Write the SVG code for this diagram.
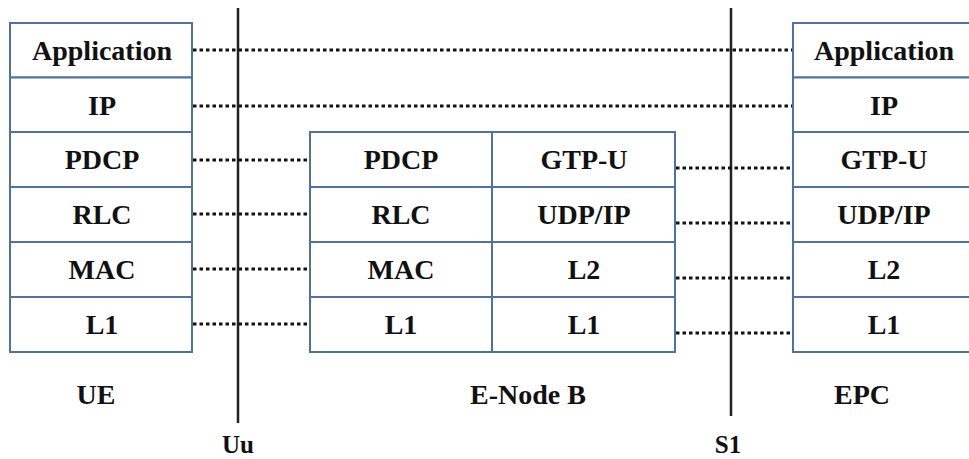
<svg xmlns="http://www.w3.org/2000/svg" width="969" height="459" viewBox="0 0 969 459">
<style>
.box{fill:#fff;stroke:#4F71A8;stroke-width:2}
.t{font-family:'Liberation Serif','Times New Roman','DejaVu Serif',serif;font-weight:bold;font-size:28px;fill:#111;text-anchor:middle}
.dot{stroke:#111;stroke-width:3;stroke-dasharray:3.5 3;fill:none}
.v{stroke:#222;stroke-width:2.5}
</style>
<rect width="969" height="459" fill="#fff"/>
<g id="interfaces">
<line class="v" x1="238" y1="8" x2="238" y2="423"/>
<line class="v" x1="731" y1="8" x2="731" y2="416"/>
</g>
<g id="connectors">
<line class="dot" x1="193" y1="50" x2="793" y2="50"/>
<line class="dot" x1="193" y1="106" x2="793" y2="106"/>
<line class="dot" x1="193" y1="160" x2="310" y2="160"/>
<line class="dot" x1="193" y1="214" x2="310" y2="214"/>
<line class="dot" x1="193" y1="269" x2="310" y2="269"/>
<line class="dot" x1="193" y1="324" x2="310" y2="324"/>
<line class="dot" x1="676" y1="168" x2="793" y2="168"/>
<line class="dot" x1="676" y1="223" x2="793" y2="223"/>
<line class="dot" x1="676" y1="278" x2="793" y2="278"/>
<line class="dot" x1="676" y1="333" x2="793" y2="333"/>
</g>
<g id="ue">
<rect class="box" x="10" y="23" width="182" height="54.5"/>
<rect class="box" x="10" y="77.5" width="182" height="54.5"/>
<rect class="box" x="10" y="132" width="182" height="55"/>
<rect class="box" x="10" y="187" width="182" height="55"/>
<rect class="box" x="10" y="242" width="182" height="55"/>
<rect class="box" x="10" y="297" width="182" height="55"/>
<text class="t" x="102" y="60">Application</text>
<text class="t" x="102" y="115">IP</text>
<text class="t" x="102" y="169">PDCP</text>
<text class="t" x="102" y="224">RLC</text>
<text class="t" x="102" y="279">MAC</text>
<text class="t" x="102" y="334">L1</text>
<text class="t" x="96" y="404">UE</text>
</g>
<g id="enodeb">
<rect class="box" x="310" y="132" width="182" height="55"/>
<rect class="box" x="310" y="187" width="182" height="55"/>
<rect class="box" x="310" y="242" width="182" height="55"/>
<rect class="box" x="310" y="297" width="182" height="55"/>
<rect class="box" x="492" y="132" width="183" height="55"/>
<rect class="box" x="492" y="187" width="183" height="55"/>
<rect class="box" x="492" y="242" width="183" height="55"/>
<rect class="box" x="492" y="297" width="183" height="55"/>
<text class="t" x="401" y="169">PDCP</text>
<text class="t" x="401" y="224">RLC</text>
<text class="t" x="401" y="279">MAC</text>
<text class="t" x="401" y="334">L1</text>
<text class="t" x="584" y="169">GTP-U</text>
<text class="t" x="584" y="224">UDP/IP</text>
<text class="t" x="584" y="279">L2</text>
<text class="t" x="584" y="334">L1</text>
<text class="t" x="528" y="404">E-Node B</text>
</g>
<g id="epc">
<rect class="box" x="793" y="23" width="184" height="54.5"/>
<rect class="box" x="793" y="77.5" width="184" height="54.5"/>
<rect class="box" x="793" y="132" width="184" height="55"/>
<rect class="box" x="793" y="187" width="184" height="55"/>
<rect class="box" x="793" y="242" width="184" height="55"/>
<rect class="box" x="793" y="297" width="184" height="55"/>
<text class="t" x="884" y="60">Application</text>
<text class="t" x="884" y="115">IP</text>
<text class="t" x="884" y="169">GTP-U</text>
<text class="t" x="884" y="224">UDP/IP</text>
<text class="t" x="884" y="279">L2</text>
<text class="t" x="884" y="334">L1</text>
<text class="t" x="862" y="404">EPC</text>
</g>
<g id="labels">
<text class="t" x="238" y="453" style="font-size:25px">Uu</text>
<text class="t" x="728" y="453" style="font-size:25px">S1</text>
</g>
</svg>
